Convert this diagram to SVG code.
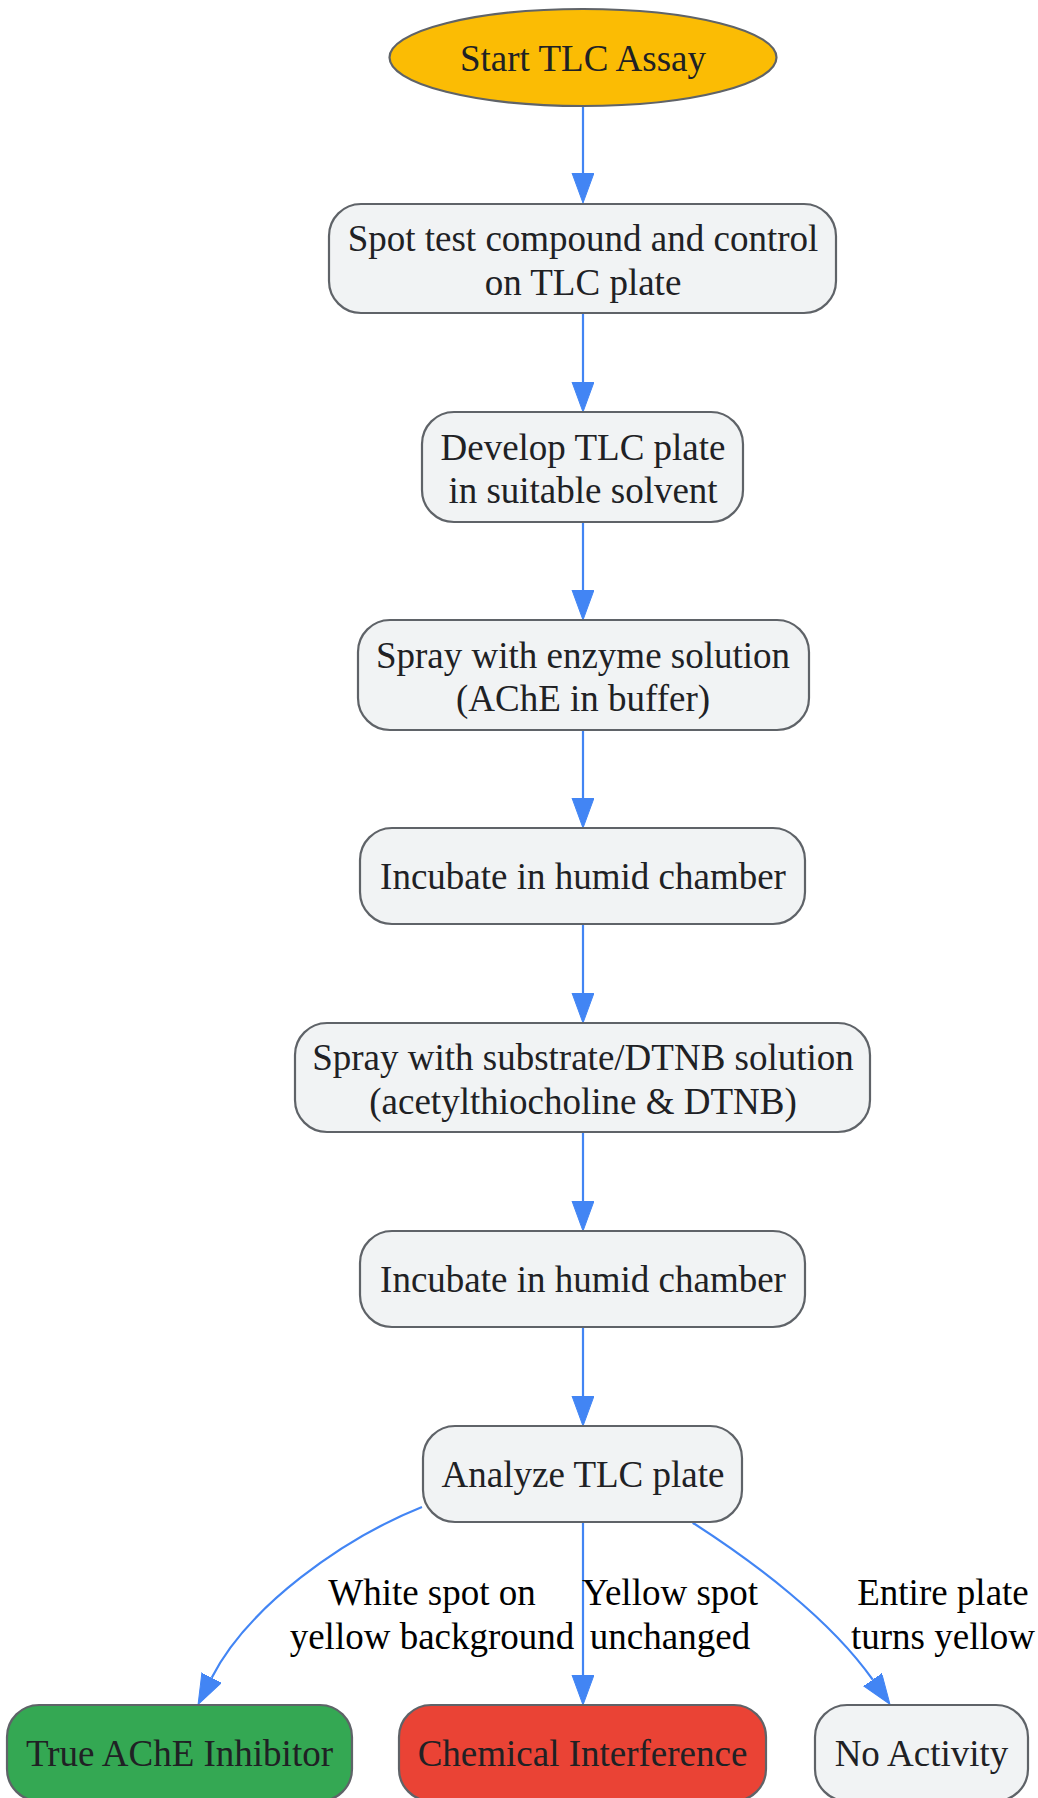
<svg xmlns="http://www.w3.org/2000/svg" width="1038" height="1798" viewBox="0 0 1038 1798">
<defs>
<style>
.n{fill:#f1f3f4;stroke:#5f6368;stroke-width:2.2}
.t{font-family:"Liberation Serif","Times New Roman",serif;font-size:37px;fill:#202124;text-anchor:middle}
.l{font-family:"Liberation Serif","Times New Roman",serif;font-size:37px;fill:#000;text-anchor:middle}
.e{fill:none;stroke:#4285f4;stroke-width:2.2;marker-end:url(#ah)}
</style>
<marker id="ah" markerUnits="userSpaceOnUse" markerWidth="32" markerHeight="24" refX="0" refY="11" orient="auto" viewBox="0 0 32 24">
<path d="M0,0 L30,11 L0,22 z" fill="#4285f4" stroke="#4285f4" stroke-width="1"/>
</marker>
</defs>
<rect width="1038" height="1798" fill="#fff"/>
<g id="edges">
<path class="e" d="M583,106 V173"/>
<path class="e" d="M583,313 V382"/>
<path class="e" d="M583,522 V590"/>
<path class="e" d="M583,730 V798"/>
<path class="e" d="M583,924 V993"/>
<path class="e" d="M583,1132 V1201"/>
<path class="e" d="M583,1327 V1396"/>
<path class="e" d="M422,1507 C343,1538.5 248,1606.5 211.7,1677.7"/>
<path class="e" d="M583,1522 V1675"/>
<path class="e" d="M692.7,1522.7 C753,1561.5 830,1619 872.7,1679.7"/>
<text class="l" x="432" y="1605">White spot on</text>
<text class="l" x="432" y="1648.5">yellow background</text>
<text class="l" x="670" y="1605">Yellow spot</text>
<text class="l" x="670" y="1648.5">unchanged</text>
<text class="l" x="943" y="1605">Entire plate</text>
<text class="l" x="943" y="1648.5">turns yellow</text>
</g>
<g id="start"><ellipse cx="583" cy="57.5" rx="193.5" ry="48.5" fill="#fbbc04" stroke="#5f6368" stroke-width="2.2"/><text class="t" x="583" y="70.5">Start TLC Assay</text></g>
<g id="spot"><rect class="n" x="329" y="204" width="507" height="109" rx="32"/><text class="t" x="583" y="251">Spot test compound and control</text><text class="t" x="583" y="294.5">on TLC plate</text></g>
<g id="develop"><rect class="n" x="422" y="412" width="321" height="110" rx="32"/><text class="t" x="583" y="459.5">Develop TLC plate</text><text class="t" x="583" y="503">in suitable solvent</text></g>
<g id="enzyme"><rect class="n" x="358" y="620" width="451" height="110" rx="32"/><text class="t" x="583" y="667.5">Spray with enzyme solution</text><text class="t" x="583" y="711">(AChE in buffer)</text></g>
<g id="incubate1"><rect class="n" x="360" y="828" width="445" height="96" rx="32"/><text class="t" x="583" y="889">Incubate in humid chamber</text></g>
<g id="substrate"><rect class="n" x="295" y="1023" width="575" height="109" rx="32"/><text class="t" x="583" y="1070">Spray with substrate/DTNB solution</text><text class="t" x="583" y="1113.5">(acetylthiocholine &amp; DTNB)</text></g>
<g id="incubate2"><rect class="n" x="360" y="1231" width="445" height="96" rx="32"/><text class="t" x="583" y="1292">Incubate in humid chamber</text></g>
<g id="analyze"><rect class="n" x="423" y="1426" width="319" height="96" rx="32"/><text class="t" x="583" y="1487">Analyze TLC plate</text></g>
<g id="inhibitor"><rect x="7" y="1705" width="345" height="96" rx="32" fill="#34a853" stroke="#5f6368" stroke-width="2.2"/><text class="t" x="179.5" y="1766">True AChE Inhibitor</text></g>
<g id="interference"><rect x="399" y="1705" width="367" height="96" rx="32" fill="#ea4335" stroke="#5f6368" stroke-width="2.2"/><text class="t" x="582.5" y="1766">Chemical Interference</text></g>
<g id="noactivity"><rect class="n" x="815" y="1705" width="213" height="96" rx="32"/><text class="t" x="921.5" y="1766">No Activity</text></g>
</svg>
